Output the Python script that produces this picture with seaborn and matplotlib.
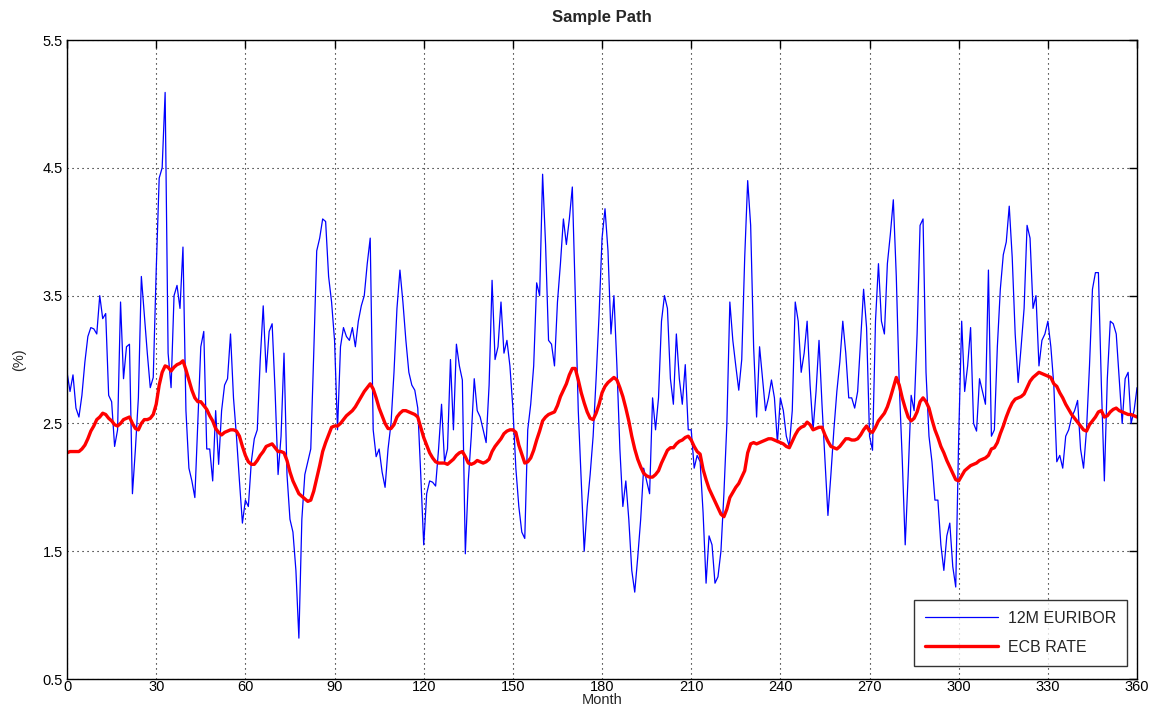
import numpy as np
import pandas as pd
import matplotlib
matplotlib.use("Agg")
import matplotlib.pyplot as plt
import seaborn as sns

months = list(range(0, 361))

euribor_12m = [
    2.90, 2.75, 2.88, 2.62, 2.55, 2.72, 2.98, 3.18, 3.25, 3.24,
    3.20, 3.50, 3.32, 3.36, 2.72, 2.67, 2.32, 2.45, 3.45, 2.85,
    3.10, 3.12, 1.95, 2.30, 2.70, 3.65, 3.35, 3.05, 2.78, 2.86,
    3.70, 4.42, 4.50, 5.09, 3.05, 2.78, 3.50, 3.58, 3.40, 3.88,
    2.60, 2.15, 2.05, 1.92, 2.50, 3.10, 3.22, 2.30, 2.30, 2.05,
    2.60, 2.18, 2.60, 2.80, 2.85, 3.20, 2.70, 2.40, 2.05, 1.72,
    1.90, 1.85, 2.20, 2.38, 2.45, 3.00, 3.42, 2.90, 3.22, 3.28,
    2.75, 2.10, 2.40, 3.05, 2.10, 1.75, 1.65, 1.35, 0.82, 1.75,
    2.10, 2.20, 2.30, 3.05, 3.85, 3.95, 4.10, 4.08, 3.65, 3.45,
    3.15, 2.45, 3.10, 3.25, 3.18, 3.15, 3.25, 3.10, 3.30, 3.42,
    3.50, 3.75, 3.95, 2.45, 2.24, 2.30, 2.12, 2.00, 2.30, 2.50,
    2.90, 3.40, 3.70, 3.45, 3.15, 2.90, 2.80, 2.76, 2.62, 2.10,
    1.55, 1.95, 2.05, 2.04, 2.01, 2.30, 2.65, 2.20, 2.30, 3.00,
    2.45, 3.12, 2.95, 2.84, 1.48, 2.05, 2.40, 2.85, 2.60, 2.55,
    2.45, 2.35, 2.80, 3.62, 3.00, 3.10, 3.45, 3.05, 3.15, 2.95,
    2.62, 2.15, 1.85, 1.65, 1.60, 2.45, 2.65, 2.95, 3.60, 3.50,
    4.45, 3.90, 3.15, 3.12, 2.95, 3.45, 3.75, 4.10, 3.90, 4.10,
    4.35, 3.50, 2.60, 2.05, 1.50, 1.85, 2.10, 2.40, 2.85, 3.35,
    3.95, 4.18, 3.85, 3.20, 3.50, 2.95, 2.30, 1.85, 2.05, 1.75,
    1.35, 1.18, 1.45, 1.75, 2.15, 2.05, 1.95, 2.70, 2.45, 2.70,
    3.30, 3.50, 3.40, 2.85, 2.65, 3.20, 2.85, 2.65, 2.96, 2.45,
    2.45, 2.15, 2.25, 2.20, 1.80, 1.25, 1.62, 1.55, 1.25, 1.30,
    1.50, 1.95, 2.50, 3.45, 3.15, 2.95, 2.76, 3.00, 3.80, 4.40,
    4.05, 3.10, 2.55, 3.10, 2.85, 2.60, 2.70, 2.84, 2.70, 2.35,
    2.70, 2.60, 2.40, 2.32, 2.60, 3.45, 3.30, 2.90, 3.05, 3.30,
    2.80, 2.45, 2.75, 3.15, 2.65, 2.22, 1.78, 2.10, 2.45, 2.75,
    2.98, 3.30, 3.05, 2.70, 2.70, 2.62, 2.75, 3.15, 3.55, 3.25,
    2.40, 2.29, 3.30, 3.75, 3.30, 3.20, 3.75, 3.98, 4.25, 3.65,
    2.80, 2.22, 1.55, 2.10, 2.72, 2.60, 3.20, 4.05, 4.10, 2.90,
    2.40, 2.20, 1.90, 1.90, 1.55, 1.35, 1.62, 1.72, 1.38, 1.22,
    2.40, 3.30, 2.75, 2.95, 3.25, 2.50, 2.44, 2.85, 2.75, 2.65,
    3.70, 2.40, 2.45, 3.10, 3.55, 3.82, 3.92, 4.20, 3.80, 3.20,
    2.82, 3.10, 3.40, 4.05, 3.95, 3.40, 3.50, 2.95, 3.15, 3.20,
    3.30, 3.10, 2.80, 2.20, 2.25, 2.15, 2.40, 2.45, 2.55, 2.60,
    2.68, 2.30, 2.15, 2.45, 2.95, 3.55, 3.68, 3.68, 2.80, 2.05,
    2.85, 3.30, 3.28, 3.20, 2.85, 2.50, 2.85, 2.90, 2.50, 2.60,
    2.78,
]

ecb_rate = [
    2.27, 2.28, 2.28, 2.28, 2.28, 2.30, 2.33, 2.38, 2.44, 2.48,
    2.53, 2.55, 2.58, 2.57, 2.54, 2.52, 2.49, 2.48, 2.50, 2.53,
    2.54, 2.55, 2.50, 2.46, 2.45, 2.50, 2.53, 2.53, 2.54, 2.57,
    2.65, 2.80, 2.90, 2.95, 2.94, 2.91, 2.94, 2.96, 2.97, 2.99,
    2.92, 2.84, 2.76, 2.70, 2.67, 2.67, 2.64, 2.61, 2.56, 2.52,
    2.46, 2.43, 2.41, 2.43, 2.44, 2.45, 2.45, 2.44, 2.40, 2.32,
    2.25, 2.20, 2.18, 2.18, 2.21, 2.25, 2.28, 2.32, 2.33, 2.34,
    2.31, 2.28, 2.28, 2.27, 2.21, 2.12, 2.05, 2.00, 1.95, 1.93,
    1.91, 1.89, 1.90, 1.97, 2.07, 2.17, 2.28, 2.35, 2.41, 2.47,
    2.48, 2.48, 2.50, 2.53, 2.56, 2.58, 2.60, 2.63, 2.67, 2.71,
    2.75, 2.78, 2.81, 2.77, 2.70, 2.62, 2.56, 2.50, 2.46, 2.46,
    2.49, 2.55, 2.58, 2.60, 2.60, 2.59, 2.58, 2.57, 2.55, 2.47,
    2.39, 2.33, 2.27, 2.23, 2.20, 2.19, 2.19, 2.19, 2.18, 2.20,
    2.22, 2.25, 2.27, 2.28, 2.24, 2.19, 2.18, 2.19, 2.21, 2.20,
    2.19, 2.20, 2.22, 2.28, 2.32, 2.35, 2.38, 2.42, 2.44, 2.45,
    2.45, 2.43, 2.33, 2.26, 2.19, 2.20, 2.23, 2.29, 2.37, 2.44,
    2.52, 2.55, 2.57, 2.58, 2.59, 2.64, 2.71, 2.76, 2.81, 2.88,
    2.93, 2.93, 2.84, 2.74, 2.66, 2.59, 2.54, 2.53, 2.58, 2.65,
    2.74, 2.79, 2.82, 2.84, 2.86, 2.84, 2.78, 2.71, 2.62, 2.52,
    2.40, 2.30, 2.22, 2.16, 2.11, 2.09, 2.08, 2.08, 2.10, 2.13,
    2.19, 2.24, 2.29, 2.31, 2.31, 2.34, 2.36, 2.37, 2.39, 2.40,
    2.37, 2.32, 2.28, 2.26, 2.14, 2.06, 1.99, 1.94, 1.89, 1.84,
    1.79, 1.77, 1.83, 1.92, 1.96, 2.00, 2.03, 2.08, 2.13, 2.27,
    2.34, 2.35, 2.34, 2.35, 2.36, 2.37, 2.38, 2.38, 2.37, 2.36,
    2.35, 2.34, 2.32, 2.31, 2.36, 2.41, 2.45, 2.47, 2.48, 2.51,
    2.49, 2.45, 2.46, 2.47, 2.47, 2.41, 2.36, 2.32, 2.31, 2.30,
    2.32, 2.35, 2.38, 2.38, 2.37, 2.37, 2.38, 2.41, 2.45, 2.48,
    2.44, 2.43, 2.47, 2.52, 2.55, 2.58, 2.63, 2.70, 2.78, 2.86,
    2.80, 2.70, 2.62, 2.55, 2.52, 2.54, 2.59, 2.67, 2.70, 2.67,
    2.62, 2.53, 2.45, 2.39, 2.32, 2.27, 2.21, 2.16, 2.11, 2.06,
    2.05, 2.09, 2.13, 2.15, 2.17, 2.18, 2.19, 2.21, 2.22, 2.23,
    2.25, 2.30, 2.31, 2.35, 2.42, 2.48, 2.55, 2.61, 2.66, 2.69,
    2.70, 2.71, 2.73, 2.78, 2.83, 2.86, 2.88, 2.90, 2.89, 2.88,
    2.87, 2.86, 2.81, 2.79, 2.74, 2.70, 2.65, 2.61, 2.57, 2.54,
    2.51, 2.48, 2.45, 2.44, 2.49, 2.52, 2.55, 2.59, 2.60, 2.55,
    2.56, 2.59, 2.61, 2.62, 2.60, 2.59, 2.58, 2.57, 2.57, 2.56,
    2.55,
]

x_ticks = [0, 30, 60, 90, 120, 150, 180, 210, 240, 270, 300, 330, 360]
y_ticks = [0.5, 1.5, 2.5, 3.5, 4.5, 5.5]
series_labels = ["12M EURIBOR", "ECB RATE"]

df = pd.DataFrame({"Month": months, "euribor": euribor_12m, "ecb": ecb_rate})

sns.set_style("white")
plt.rcParams["font.family"] = ["Liberation Sans", "DejaVu Sans"]

fig = plt.figure(figsize=(11.58, 7.06), dpi=100)
ax = fig.add_axes([0.0579, 0.0382, 0.924, 0.9051])

sns.lineplot(data=df, x="Month", y="euribor", ax=ax, color="#0000ff",
             linewidth=0.9, label=series_labels[0])
sns.lineplot(data=df, x="Month", y="ecb", ax=ax, color="#ff0000",
             linewidth=2.4, label=series_labels[1])

ax.set_xlim(0, 360)
ax.set_ylim(0.5, 5.5)
ax.set_xticks(x_ticks)
ax.set_yticks(y_ticks)
ax.set_xticklabels([str(t) for t in x_ticks])
ax.set_yticklabels([f"{t:.1f}" for t in y_ticks])

ax.grid(True, color="black", linestyle=(0, (1, 3.5)), linewidth=0.8)
ax.set_axisbelow(True)
for spine in ax.spines.values():
    spine.set_visible(True)
    spine.set_color("black")
    spine.set_linewidth(1.0)

ax.tick_params(axis="both", direction="in", length=6, width=1.0,
               top=True, right=True, labelsize=10.5, colors="black")
ax.tick_params(axis="x", pad=1)
ax.tick_params(axis="y", pad=3)

ax.set_xlabel("Month", fontsize=10.5, labelpad=-1)
ax.set_ylabel("(%)", fontsize=10.5, labelpad=12)
ax.set_title("Sample Path", fontsize=12, fontweight="bold", pad=13)

leg = ax.legend(loc="lower right", bbox_to_anchor=(0.991, 0.02),
                fontsize=11.5, frameon=True, fancybox=False, shadow=False,
                edgecolor="black", handlelength=4.6, handletextpad=0.6,
                borderpad=0.7, labelspacing=0.9, borderaxespad=0)
leg.get_frame().set_linewidth(1.0)

fig.savefig("out.png", dpi=100, facecolor="white")
